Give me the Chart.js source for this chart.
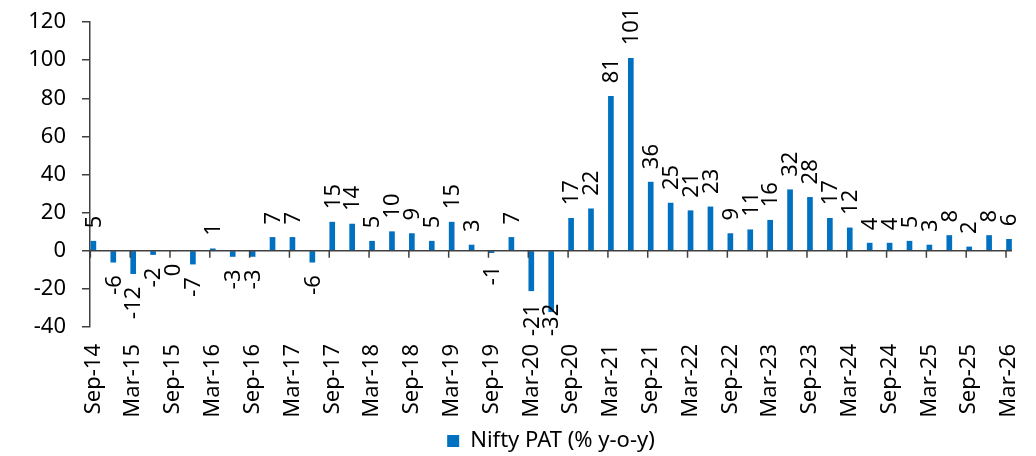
<!DOCTYPE html>
<html>
<head>
<meta charset="utf-8">
<script src="https://cdn.jsdelivr.net/npm/chart.js@4.4.1/dist/chart.umd.min.js"></script>
<style>
  html, body { margin: 0; padding: 0; background: #fff; }
  #wrap { width: 1036px; height: 456px; position: relative; }
</style>
</head>
<body>
<div id="wrap"><canvas id="chart"></canvas></div>
<script>
// Quarterly Nifty PAT growth, % y-o-y
const quarters = ['Sep-14','Dec-14','Mar-15','Jun-15','Sep-15','Dec-15','Mar-16','Jun-16','Sep-16','Dec-16',
  'Mar-17','Jun-17','Sep-17','Dec-17','Mar-18','Jun-18','Sep-18','Dec-18','Mar-19','Jun-19',
  'Sep-19','Dec-19','Mar-20','Jun-20','Sep-20','Dec-20','Mar-21','Jun-21','Sep-21','Dec-21',
  'Mar-22','Jun-22','Sep-22','Dec-22','Mar-23','Jun-23','Sep-23','Dec-23','Mar-24','Jun-24',
  'Sep-24','Dec-24','Mar-25','Jun-25','Sep-25','Dec-25','Mar-26'];
const patGrowth = [5,-6,-12,-2,0,-7,1,-3,-3,7,
  7,-6,15,14,5,10,9,5,15,3,
  -1,7,-21,-32,17,22,81,101,36,25,
  21,23,9,11,16,32,28,17,12,4,
  4,5,3,8,2,8,6];
const yTicks = [-40, -20, 0, 20, 40, 60, 80, 100, 120];
const seriesName = 'Nifty PAT (% y-o-y)';

const FONT = '"Noto Sans", "Open Sans", sans-serif';
const FS = 22;
const AXIS = '#404040';
const BLUE = '#0070C0';

// value labels (rotated) + category ticks on the zero line
const barLabels = {
  id: 'barLabels',
  afterDatasetsDraw(chart) {
    const { ctx, chartArea, scales: { x, y } } = chart;
    const y0 = y.getPixelForValue(0);
    ctx.save();
    ctx.strokeStyle = AXIS;
    ctx.lineWidth = 1.5;
    ctx.beginPath();
    ctx.moveTo(chartArea.left, y0);
    ctx.lineTo(chartArea.right, y0);
    x.ticks.forEach(t => {
      const px = x.getPixelForValue(t.value) - 3;
      ctx.moveTo(px, y0);
      ctx.lineTo(px, y0 + 7);
    });
    ctx.stroke();

    ctx.font = FS + 'px ' + FONT;
    ctx.fillStyle = '#000';
    ctx.textBaseline = 'middle';
    const gap = 13;
    chart.getDatasetMeta(0).data.forEach((bar, i) => {
      const v = patGrowth[i];
      const txt = String(v);
      const w = ctx.measureText(txt).width;
      let ty;
      ctx.save();
      if (v > 0) {
        ctx.textAlign = 'left';
        ty = bar.y - gap;
      } else {
        ctx.textAlign = 'right';
        ty = Math.min(Math.max(bar.y, y0) + gap, chartArea.bottom + 9 - w);
      }
      ctx.translate(bar.x + 1, ty);
      ctx.rotate(-Math.PI / 2);
      ctx.fillText(txt, 0, 0);
      ctx.restore();
    });
    ctx.restore();
  }
};

// Excel centres the legend under the plot area, not the canvas
const centerLegend = {
  id: 'centerLegend',
  afterLayout(chart) {
    const lg = chart.legend, ca = chart.chartArea;
    if (!lg) return;
    const dx = (ca.left + ca.right) / 2 - (lg.left + lg.right) / 2;
    lg.left += dx;
    lg.right += dx;
    lg.top += 6;
    lg.bottom += 6;
  }
};

new Chart(document.getElementById('chart'), {
  type: 'bar',
  data: {
    datasets: [{
      label: seriesName,
      data: patGrowth.map((v, i) => ({ x: i, y: v })),
      backgroundColor: BLUE,
      borderWidth: 0,
      barThickness: 5
    }]
  },
  options: {
    responsive: true,
    maintainAspectRatio: false,
    animation: false,
    layout: { padding: { top: 22, right: 24, bottom: 0, left: 0 } },
    plugins: {
      legend: {
        position: 'bottom',
        labels: { boxWidth: 12, boxHeight: 12, color: '#000', font: { size: FS, family: FONT }, padding: 3 }
      },
      tooltip: { enabled: false }
    },
    scales: {
      x: {
        type: 'linear',
        offset: false,
        min: -0.17,
        max: 46.15,
        afterBuildTicks(scale) {
          scale.ticks = quarters.map((q, i) => i).filter(i => i % 2 === 0).map(v => ({ value: v }));
        },
        ticks: {
          callback: v => quarters[v],
          autoSkip: false, maxRotation: 90, minRotation: 90,
          color: '#000', font: { size: FS, family: FONT }, padding: 17
        },
        grid: { display: false, drawTicks: false },
        border: { display: false },
        afterFit(scale) {
          scale.height = 94;
          scale.paddingLeft = 0;
          scale.paddingRight = 0;
        }
      },
      y: {
        min: yTicks[0],
        max: yTicks[yTicks.length - 1],
        afterBuildTicks(scale) { scale.ticks = yTicks.map(v => ({ value: v })); },
        ticks: { color: '#000', font: { size: FS, family: FONT }, padding: 16 },
        grid: { drawOnChartArea: false, tickLength: 8, color: AXIS, lineWidth: 1.5 },
        border: { color: AXIS, width: 1.5 },
        afterFit(scale) {
          scale.width = 90;
          scale.paddingTop = 0;
          scale.paddingBottom = 0;
        }
      }
    }
  },
  plugins: [barLabels, centerLegend]
});
</script>
</body>
</html>
